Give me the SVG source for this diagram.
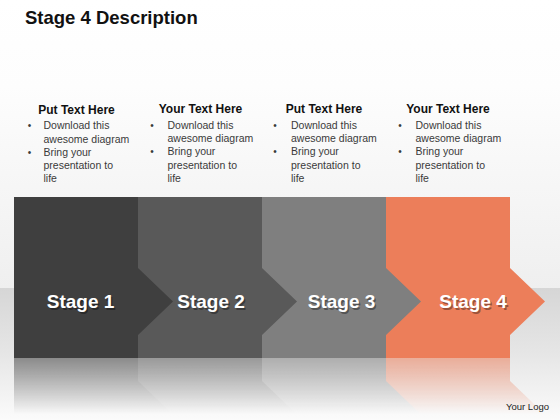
<svg xmlns="http://www.w3.org/2000/svg" width="560" height="420" viewBox="0 0 560 420">
  <defs>
    <linearGradient id="bgTop" x1="0" y1="0" x2="0" y2="1">
      <stop offset="0" stop-color="#ffffff"/>
      <stop offset="0.3" stop-color="#fdfdfd"/>
      <stop offset="1" stop-color="#efefef"/>
    </linearGradient>
    <linearGradient id="bgBand" x1="0" y1="0" x2="0" y2="1">
      <stop offset="0" stop-color="#d6d6d6"/>
      <stop offset="0.5" stop-color="#e6e6e6"/>
      <stop offset="1" stop-color="#fbfbfb"/>
    </linearGradient>
    <linearGradient id="reflGrad" gradientUnits="userSpaceOnUse" x1="0" y1="358" x2="0" y2="414">
      <stop offset="0" stop-color="#ffffff" stop-opacity="0.55"/>
      <stop offset="1" stop-color="#ffffff" stop-opacity="0"/>
    </linearGradient>
    <mask id="reflMask" maskUnits="userSpaceOnUse" x="0" y="358" width="560" height="62">
      <rect x="0" y="358" width="560" height="62" fill="url(#reflGrad)"/>
    </mask>
    <polygon id="chev" points="0,197 124,197 124,268 159,301.5 124,335 124,358 0,358"/>
    <polygon id="chevRefl" points="0,358 124,358 124,381 159,414.5 124,448 0,448"/>
  </defs>
  <style>
    .title { font-family: "Liberation Sans", Arial, sans-serif; font-weight: bold; font-size: 18.5px; fill: #111111; }
    .head { font-family: "Liberation Sans", Arial, sans-serif; font-weight: bold; font-size: 12px; fill: #111111; text-anchor: middle; }
    .body { font-family: "Liberation Sans", Arial, sans-serif; font-size: 10.5px; fill: #3a3a3a; }
    .dot { font-family: "Liberation Sans", Arial, sans-serif; font-size: 10px; fill: #3a3a3a; text-anchor: middle; }
    .stage { font-family: "Liberation Sans", Arial, sans-serif; font-weight: bold; font-size: 19px; fill: #ffffff; text-anchor: middle; }
    .shadow { font-family: "Liberation Sans", Arial, sans-serif; font-weight: bold; font-size: 19px; fill: #000000; fill-opacity: 0.35; text-anchor: middle; }
    .logo { font-family: "Liberation Sans", Arial, sans-serif; font-size: 9.5px; fill: #222222; text-anchor: end; }
  </style>

  <!-- background -->
  <rect x="0" y="0" width="560" height="288" fill="url(#bgTop)"/>
  <rect x="0" y="288" width="560" height="132" fill="url(#bgBand)"/>

  <text class="title" x="25" y="24">Stage 4 Description</text>

  <!-- reflections -->
  <g id="reflections" mask="url(#reflMask)">
    <use href="#chevRefl" x="386" fill="#ec7e5a"/>
    <use href="#chevRefl" x="262" fill="#7f7f7f"/>
    <use href="#chevRefl" x="138" fill="#595959"/>
    <use href="#chevRefl" x="14" fill="#3f3f3f"/>
  </g>

  <!-- stage nodes (drawn right to left so each tip overlaps the next) -->
  <g id="stage4">
    <use href="#chev" x="386" fill="#ec7e5a"/>
    <text class="shadow" x="474.5" y="309.5">Stage 4</text>
    <text class="stage" x="473" y="308">Stage 4</text>
  </g>
  <g id="stage3">
    <use href="#chev" x="262" fill="#7f7f7f"/>
    <text class="shadow" x="343" y="309.5">Stage 3</text>
    <text class="stage" x="341.5" y="308">Stage 3</text>
  </g>
  <g id="stage2">
    <use href="#chev" x="138" fill="#595959"/>
    <text class="shadow" x="212.5" y="309.5">Stage 2</text>
    <text class="stage" x="211" y="308">Stage 2</text>
  </g>
  <g id="stage1">
    <use href="#chev" x="14" fill="#3f3f3f"/>
    <text class="shadow" x="82" y="309.5">Stage 1</text>
    <text class="stage" x="80.5" y="308">Stage 1</text>
  </g>

  <g id="connectors"></g>

  <!-- text blocks -->
  <g id="text1">
    <text class="head" x="76.5" y="113.5">Put Text Here</text>
    <text class="dot" x="29.5" y="129">•</text>
    <text class="body" x="43.5" y="129">Download this</text>
    <text class="body" x="43.5" y="142.5">awesome diagram</text>
    <text class="dot" x="29.5" y="155.5">•</text>
    <text class="body" x="43.5" y="155.5">Bring your</text>
    <text class="body" x="43.5" y="169">presentation to</text>
    <text class="body" x="43.5" y="182">life</text>
  </g>
  <g id="text2">
    <text class="head" x="200.5" y="113">Your Text Here</text>
    <text class="dot" x="152" y="128.5">•</text>
    <text class="body" x="167.5" y="128.5">Download this</text>
    <text class="body" x="167.5" y="142">awesome diagram</text>
    <text class="dot" x="152" y="155">•</text>
    <text class="body" x="167.5" y="155">Bring your</text>
    <text class="body" x="167.5" y="168.5">presentation to</text>
    <text class="body" x="167.5" y="181.5">life</text>
  </g>
  <g id="text3">
    <text class="head" x="324" y="113">Put Text Here</text>
    <text class="dot" x="275" y="128.5">•</text>
    <text class="body" x="291" y="128.5">Download this</text>
    <text class="body" x="291" y="142">awesome diagram</text>
    <text class="dot" x="275" y="155">•</text>
    <text class="body" x="291" y="155">Bring your</text>
    <text class="body" x="291" y="168.5">presentation to</text>
    <text class="body" x="291" y="181.5">life</text>
  </g>
  <g id="text4">
    <text class="head" x="448" y="113">Your Text Here</text>
    <text class="dot" x="400" y="128.5">•</text>
    <text class="body" x="415.5" y="128.5">Download this</text>
    <text class="body" x="415.5" y="142">awesome diagram</text>
    <text class="dot" x="400" y="155">•</text>
    <text class="body" x="415.5" y="155">Bring your</text>
    <text class="body" x="415.5" y="168.5">presentation to</text>
    <text class="body" x="415.5" y="181.5">life</text>
  </g>

  <text class="logo" x="549" y="410">Your Logo</text>
</svg>
